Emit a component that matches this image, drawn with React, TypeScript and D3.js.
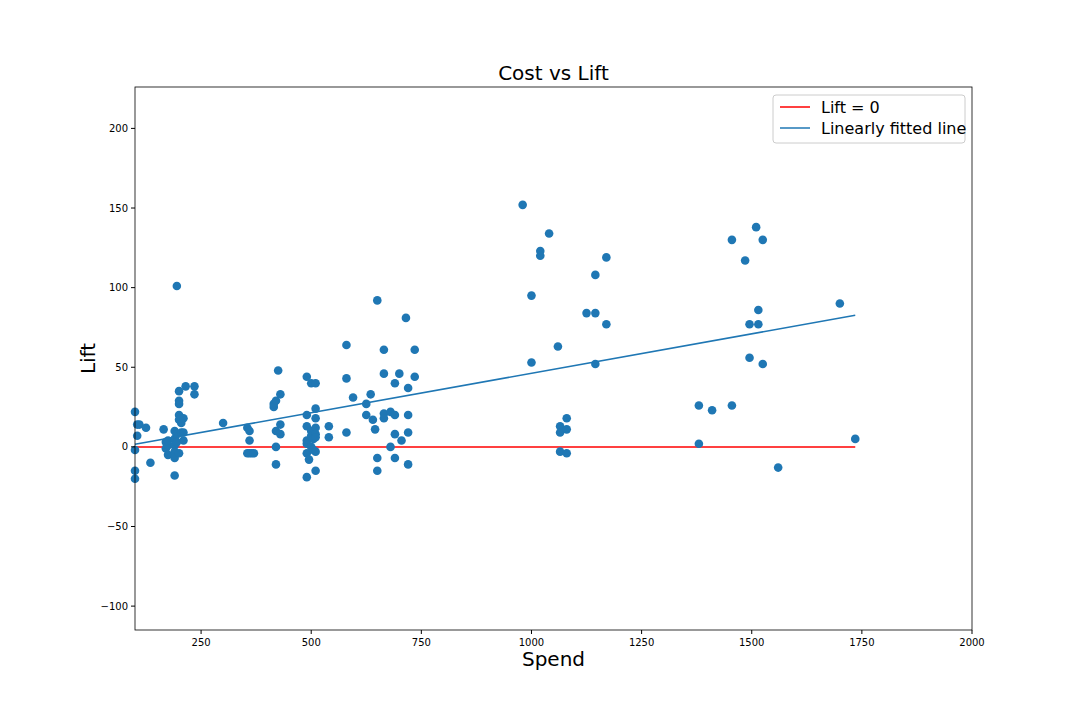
import React from "react";
import * as d3 from "d3";

const spend = [100,100,100,100,105,105,110,125,135,165,170,170,175,175,175,190,190,190,190,190,190,195,195,195,200,200,200,200,200,200,205,205,210,210,210,215,235,235,300,
355,355,360,365,370,360,360,415,415,420,425,420,420,420,430,430,430,
490,490,490,490,490,490,490,495,500,500,500,500,505,505,510,510,510,510,510,510,510,510,540,540,
580,580,580,595,625,625,635,640,645,650,650,650,665,665,665,665,680,680,690,690,690,690,700,705,715,720,720,720,720,735,735,
980,1000,1000,1020,1020,1040,1060,1065,1065,1065,1080,1080,1080,1125,1145,1145,1145,1170,1170,
1380,1380,1410,1455,1455,1485,1495,1495,1510,1515,1515,1525,1525,1560,1700,1735];
const lift = [22,-2,-15,-20,14,7,14,12,-10,11,3,-1,-5,1,4,10,5,1,-3,-7,-18,101,8,3,-4,27,29,35,20,17,15,9,4,18,9,38,38,33,15,
12,-4,-4,-4,-4,4,10,25,27,29,48,10,0,-11,33,14,8,
44,20,13,4,2,-4,-19,-8,40,10,7,0,5,-2,40,24,18,12,8,6,-3,-15,13,6,
64,43,9,31,27,20,33,17,11,92,-7,-15,61,46,21,18,22,0,40,20,8,-7,46,4,81,37,20,9,-11,61,44,
152,95,53,123,120,134,63,13,9,-3,18,11,-4,84,108,84,52,119,77,
26,2,23,26,130,117,77,56,138,86,77,130,52,-13,90,5];
const xTicks = [250,500,750,1000,1250,1500,1750,2000];
const yTicks = [-100,-50,0,50,100,150,200];
const legendLabels = ["Lift = 0", "Linearly fitted line"];

export default function App() {
  const L = 135, R = 972, T = 87, B = 630;
  const x = d3.scaleLinear().domain([100, 2000]).range([L, R]);
  const y = d3.scaleLinear().domain([-115, 226]).range([B, T]);
  const n = spend.length;
  const mx = d3.mean(spend)!, my = d3.mean(lift)!;
  let sxy = 0, sxx = 0;
  for (let i = 0; i < n; i++) { sxy += (spend[i]-mx)*(lift[i]-my); sxx += (spend[i]-mx)**2; }
  const slope = sxy / sxx, icpt = my - slope * mx;
  const [x0, x1] = d3.extent(spend) as [number, number];
  const blue = "#1f77b4";
  return (
    <svg width={1080} height={720} style={{ position: "absolute", left: 0, top: 0, fontFamily: "DejaVu Sans" }}>
      <rect width={1080} height={720} fill="#fff" />
      <text x={(L+R)/2} y={80} textAnchor="middle" fontSize={20}>Cost vs Lift</text>
      <line x1={x(x0)} x2={x(x1)} y1={y(0)} y2={y(0)} stroke="#ff0000" strokeWidth={1.5} />
      <line x1={x(x0)} x2={x(x1)} y1={y(icpt+slope*x0)} y2={y(icpt+slope*x1)} stroke={blue} strokeWidth={1.5} />
      {spend.map((s, i) => <circle key={i} cx={x(s)} cy={y(lift[i])} r={4.3} fill={blue} />)}
      <rect x={L} y={T} width={R-L} height={B-T} fill="none" stroke="#000" strokeWidth={0.8} />
      {xTicks.map(t => (
        <g key={t}>
          <line x1={x(t)} x2={x(t)} y1={B} y2={B+4} stroke="#000" />
          <text x={x(t)} y={B+16} textAnchor="middle" fontSize={10}>{t}</text>
        </g>
      ))}
      {yTicks.map(t => (
        <g key={t}>
          <line x1={L-4} x2={L} y1={y(t)} y2={y(t)} stroke="#000" />
          <text x={L-7} y={y(t)+3.5} textAnchor="end" fontSize={10}>{t < 0 ? "\u2212" + Math.abs(t) : t}</text>
        </g>
      ))}
      <text x={(L+R)/2} y={666} textAnchor="middle" fontSize={20}>Spend</text>
      <text transform={`translate(95,${(T+B)/2}) rotate(-90)`} textAnchor="middle" fontSize={20}>Lift</text>
      <g>
        <rect x={773} y={95} width={192} height={48} rx={3} fill="#fff" stroke="#ccc" />
        {legendLabels.map((lb, i) => (
          <g key={lb}>
            <line x1={780} x2={810} y1={107+i*21} y2={107+i*21} stroke={i === 0 ? "#ff0000" : blue} strokeWidth={1.5} />
            <text x={821} y={113+i*21} fontSize={16}>{lb}</text>
          </g>
        ))}
      </g>
    </svg>
  );
}
